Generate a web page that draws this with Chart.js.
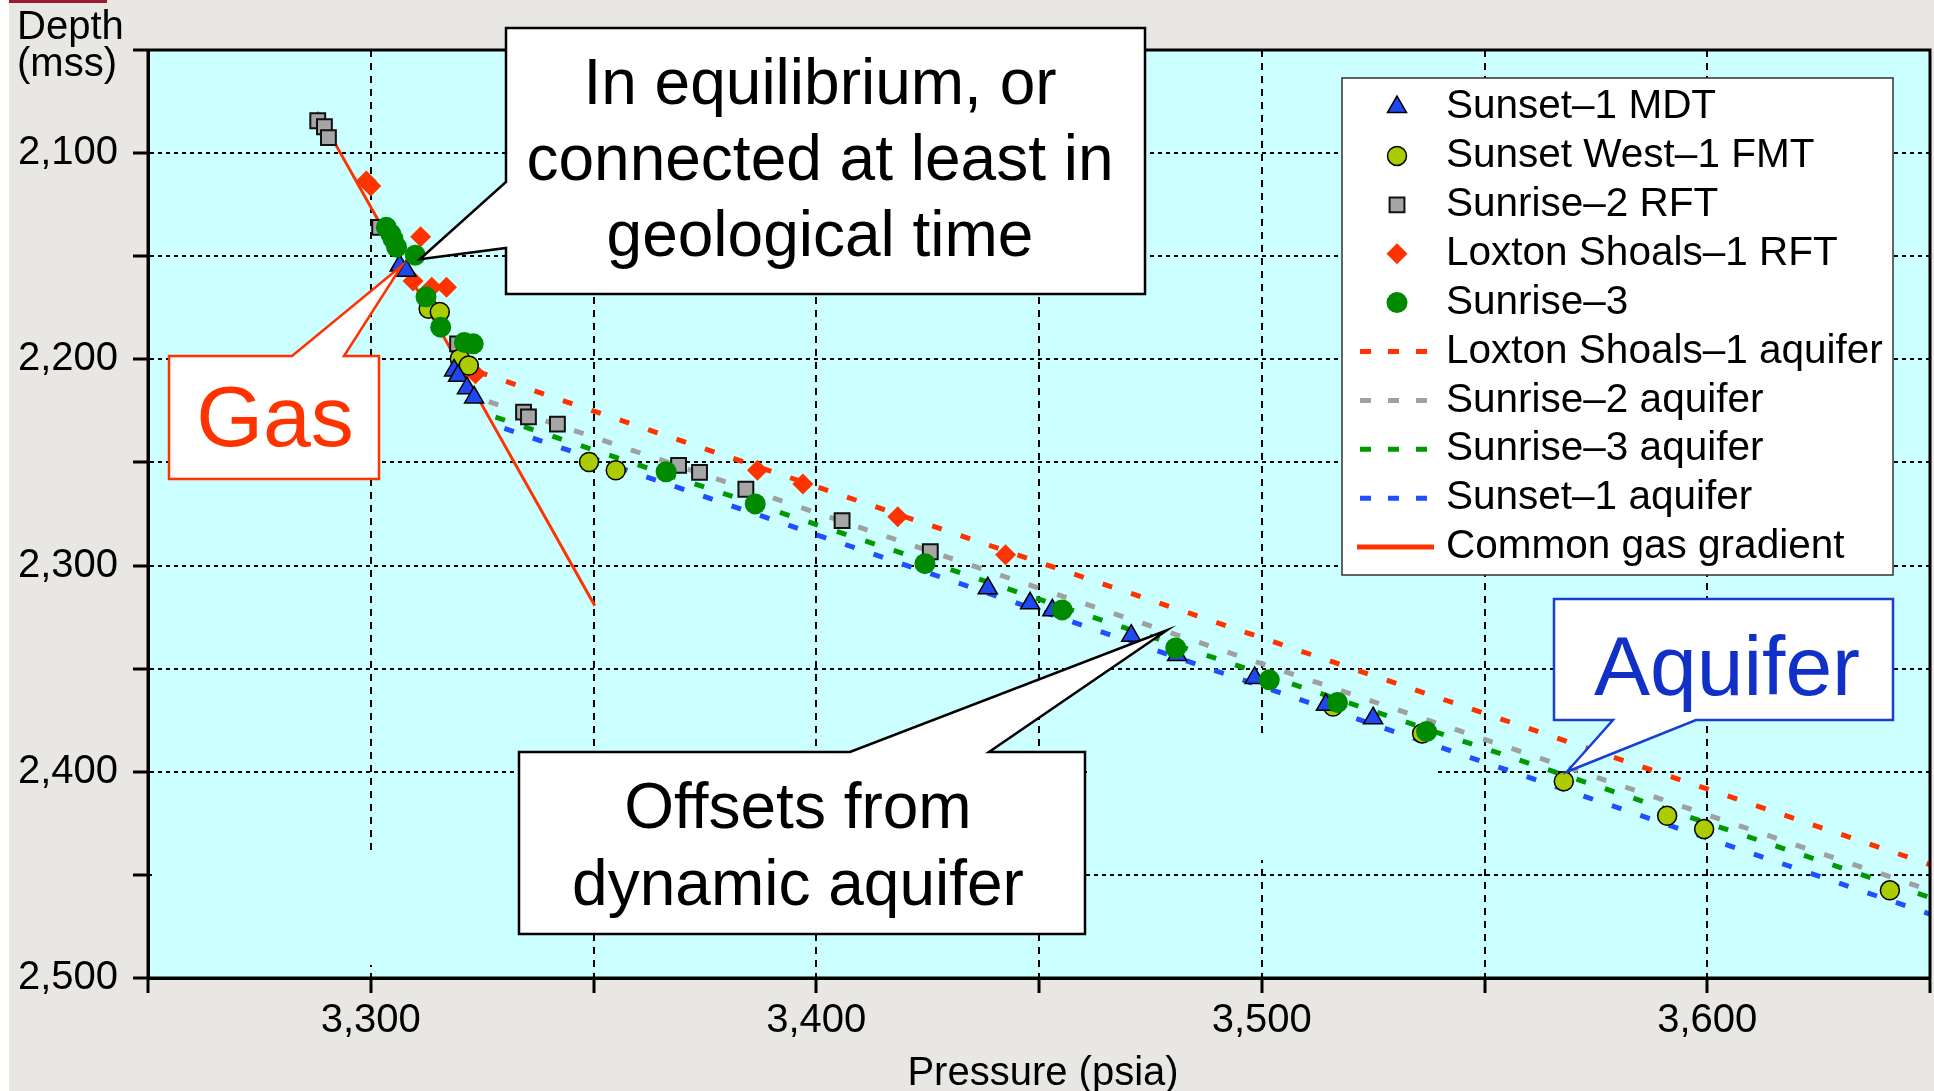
<!DOCTYPE html>
<html>
<head>
<meta charset="utf-8">
<script src="https://cdn.jsdelivr.net/npm/chart.js@4.4.1/dist/chart.umd.min.js"></script>
<style>
  html, body { margin: 0; padding: 0; background: #fff; }
</style>
</head>
<body>
<canvas id="pressureChart" width="1934" height="1091"></canvas>
<script>
// Pressure / depth plot - points as [pressure psia, depth mss]
const sunset1Mdt = [
  [3306.5, 2154.5], [3308, 2157], [3318.7, 2205.4], [3319.6, 2208], [3321.6, 2214],
  [3323.2, 2218.5], [3438.5, 2311], [3448, 2318.3], [3453, 2321.7], [3470.7, 2334],
  [3481, 2343.4], [3498.4, 2354.5], [3514.4, 2367.5], [3525, 2374]
];
const sunsetWest1Fmt = [
  [3313, 2175.5], [3315.5, 2177], [3320, 2199.7], [3322, 2203], [3349, 2249.8],
  [3355, 2253.8], [3516, 2368.4], [3536, 2381.4], [3567.8, 2404.6], [3591, 2421.3],
  [3599.3, 2427.8], [3641, 2457.5]
];
const sunrise2Rft = [
  [3288.1, 2084.3], [3289.6, 2087.2], [3290.5, 2092.5], [3302, 2136], [3319.5, 2192.5],
  [3334.3, 2225.6], [3335.4, 2227.9], [3341.9, 2231.4], [3369.1, 2251.4], [3373.8, 2254.8],
  [3384.2, 2263], [3405.8, 2278.2], [3425.6, 2293.3]
];
const loxtonShoals1Rft = [
  [3299, 2113.5], [3300, 2116], [3311.2, 2140.6], [3309.5, 2162], [3313.7, 2165],
  [3317, 2165], [3323.5, 2207], [3386.8, 2253.8], [3397, 2260.5], [3418.3, 2276.3],
  [3442.5, 2294.8]
];
const sunrise3 = [
  [3303.5, 2136], [3304.5, 2139.2], [3305, 2141.6], [3305.8, 2145.6], [3310, 2149.5],
  [3312.4, 2169.7], [3315.7, 2184.4], [3321, 2191.8], [3323, 2192.5], [3366.3, 2254.5],
  [3386.3, 2270.1], [3424.4, 2299.1], [3455.2, 2321.5], [3480.7, 2340], [3501.7, 2355.4],
  [3517, 2366.4], [3537, 2380.5]
];
// aquifer trends and gas gradient (end points)
const loxtonAquifer = [[3324, 2206], [3650, 2445]];
const sunrise2Aquifer = [[3326.5, 2220.5], [3650, 2457.5]];
const sunrise3Aquifer = [[3328, 2228], [3650, 2461]];
const sunset1Aquifer = [[3330, 2233.5], [3650, 2469]];
const gasGradient = [[3288, 2080], [3350.3, 2319.5]];

// axes
const pressureRange = [3250, 3650];
const depthRange = [2050, 2500];
const pressureLabels = [3300, 3400, 3500, 3600];
const depthLabels = [2100, 2200, 2300, 2400, 2500];

const FONT = "'Liberation Sans', Arial, Helvetica, sans-serif";
const pageGrey = '#E9E7E3';
const plotCyan = '#CCFFFF';
const plotRight = 1930;

function pts(arr) {
  return arr.map(p => ({ x: p[0], y: p[1] }));
}

const datasets = [
  { label: 'Sunset\u20131 MDT', data: pts(sunset1Mdt), pointStyle: 'triangle', pointRadius: 11,
    backgroundColor: '#1F48F0', borderColor: '#000', borderWidth: 1.5, order: 2 },
  { label: 'Sunset West\u20131 FMT', data: pts(sunsetWest1Fmt), pointStyle: 'circle', pointRadius: 9.5,
    backgroundColor: '#AACC00', borderColor: '#000', borderWidth: 1.5, order: 3 },
  { label: 'Sunrise\u20132 RFT', data: pts(sunrise2Rft), pointStyle: 'rect', pointRadius: 10.5,
    backgroundColor: '#A6A6A6', borderColor: '#111', borderWidth: 2, order: 4 },
  { label: 'Loxton Shoals\u20131 RFT', data: pts(loxtonShoals1Rft), pointStyle: 'rectRot', pointRadius: 10.5,
    backgroundColor: '#FF3300', borderColor: '#FF3300', borderWidth: 0, order: 5 },
  { label: 'Sunrise\u20133', data: pts(sunrise3), pointStyle: 'circle', pointRadius: 10.5,
    backgroundColor: '#008A00', borderColor: '#008A00', borderWidth: 0, order: 1 },
  { label: 'Loxton Shoals\u20131 aquifer', data: pts(loxtonAquifer), showLine: true, pointRadius: 0,
    borderColor: '#FF3300', borderWidth: 5, borderDash: [10, 20], order: 10 },
  { label: 'Sunrise\u20132 aquifer', data: pts(sunrise2Aquifer), showLine: true, pointRadius: 0,
    borderColor: '#A0A0A0', borderWidth: 5, borderDash: [10, 20], order: 11 },
  { label: 'Sunrise\u20133 aquifer', data: pts(sunrise3Aquifer), showLine: true, pointRadius: 0,
    borderColor: '#009900', borderWidth: 5, borderDash: [10, 20], order: 12 },
  { label: 'Sunset\u20131 aquifer', data: pts(sunset1Aquifer), showLine: true, pointRadius: 0,
    borderColor: '#1F4FFF', borderWidth: 5, borderDash: [10, 20], order: 13 },
  { label: 'Common gas gradient', data: pts(gasGradient), showLine: true, pointRadius: 0,
    borderColor: '#FF3300', borderWidth: 3, order: 9 }
];

// callouts: box in pixels, tip in data units
const callouts = [
  { box: { l: 506, t: 28, r: 1145, b: 294 }, side: 'left', base: [182, 248], tip: [3311, 2151.5],
    lines: ['In equilibrium, or', 'connected at least in', 'geological time'], ys: [86, 162, 238],
    cx: 820, size: 64, color: '#000', edge: '#000' },
  { box: { l: 169, t: 356, r: 379, b: 479 }, side: 'top', base: [292, 344], tip: [3307, 2154.5],
    lines: ['Gas'], ys: [422], cx: 275, size: 86, color: '#FF3300', edge: '#FF3300' },
  { box: { l: 519, t: 752, r: 1085, b: 934 }, side: 'top', base: [850, 989], tip: [3478.7, 2331.4],
    lines: ['Offsets from', 'dynamic aquifer'], ys: [810, 887], cx: 798, size: 64, color: '#000', edge: '#000' },
  { box: { l: 1554, t: 599, r: 1893, b: 720 }, side: 'bottom', base: [1613, 1696], tip: [3568.5, 2400],
    lines: ['Aquifer'], ys: [672], cx: 1727, size: 84, color: '#1030C8', edge: '#1A3FD0' }
];

function drawCallout(ctx, c, tx, ty) {
  const { l, t, r, b } = c.box;
  ctx.beginPath();
  if (c.side === 'left') {
    ctx.moveTo(l, t); ctx.lineTo(r, t); ctx.lineTo(r, b); ctx.lineTo(l, b);
    ctx.lineTo(l, c.base[1]); ctx.lineTo(tx, ty); ctx.lineTo(l, c.base[0]);
  } else if (c.side === 'top') {
    ctx.moveTo(l, t); ctx.lineTo(c.base[0], t); ctx.lineTo(tx, ty); ctx.lineTo(c.base[1], t);
    ctx.lineTo(r, t); ctx.lineTo(r, b); ctx.lineTo(l, b);
  } else {
    ctx.moveTo(l, t); ctx.lineTo(r, t); ctx.lineTo(r, b); ctx.lineTo(c.base[1], b);
    ctx.lineTo(tx, ty); ctx.lineTo(c.base[0], b); ctx.lineTo(l, b);
  }
  ctx.closePath();
  ctx.fillStyle = '#fff';
  ctx.fill();
  ctx.lineWidth = 2.5;
  ctx.strokeStyle = c.edge;
  ctx.lineJoin = 'miter';
  ctx.stroke();
  ctx.fillStyle = c.color;
  ctx.font = c.size + 'px ' + FONT;
  ctx.textAlign = 'center';
  ctx.textBaseline = 'middle';
  c.lines.forEach((txt, i) => ctx.fillText(txt, c.cx, c.ys[i]));
}

function legendMarker(ctx, ds, x, y) {
  ctx.fillStyle = ds.backgroundColor;
  ctx.strokeStyle = ds.borderColor;
  ctx.lineWidth = ds.borderWidth;
  Chart.helpers.drawPoint(ctx, { pointStyle: ds.pointStyle, radius: ds.pointRadius, borderWidth: ds.borderWidth, rotation: 0 }, x, y);
}

const decorPlugin = {
  id: 'decor',
  beforeDraw(chart) {
    const ctx = chart.ctx, a = chart.chartArea;
    ctx.save();
    ctx.fillStyle = '#fff';
    ctx.fillRect(0, 0, chart.width, chart.height);
    ctx.fillStyle = pageGrey;
    ctx.fillRect(9, 0, chart.width - 9, chart.height);
    ctx.fillStyle = '#9B1B30';
    ctx.fillRect(9, 0, 98, 3);
    ctx.fillStyle = plotCyan;
    ctx.fillRect(a.left, a.top, a.width, a.height);
    ctx.restore();
  },
  beforeDatasetsDraw(chart) {
    // patches where the original grid is hidden
    const ctx = chart.ctx;
    ctx.save();
    ctx.fillStyle = plotCyan;
    ctx.fillRect(152, 853, 367, 112);
    ctx.fillRect(1087, 739, 351, 121);
    ctx.restore();
  },
  afterDatasetsDraw(chart) {
    const ctx = chart.ctx, a = chart.chartArea;
    const xs = chart.scales.x, ys = chart.scales.y;
    ctx.save();
    // frame
    ctx.strokeStyle = '#000';
    ctx.lineWidth = 3;
    ctx.strokeRect(a.left, a.top, a.width, a.height);

    // axis titles
    ctx.fillStyle = '#000';
    ctx.font = '40px ' + FONT;
    ctx.textAlign = 'left';
    ctx.textBaseline = 'alphabetic';
    ctx.fillText('Depth', 17, 39);
    ctx.fillText('(mss)', 17, 76);
    ctx.textAlign = 'center';
    ctx.fillText('Pressure (psia)', (a.left + a.right) / 2 + 4, 1085);

    // legend
    const lg = { l: 1342, t: 78, r: 1893, b: 575 };
    ctx.fillStyle = '#fff';
    ctx.fillRect(lg.l, lg.t, lg.r - lg.l, lg.b - lg.t);
    ctx.strokeStyle = '#333';
    ctx.lineWidth = 1.5;
    ctx.strokeRect(lg.l, lg.t, lg.r - lg.l, lg.b - lg.t);
    chart.data.datasets.forEach((ds, i) => {
      const y = 107 + i * 48.9;
      ctx.save();
      if (ds.showLine) {
        ctx.strokeStyle = ds.borderColor;
        ctx.lineWidth = 5;
        ctx.setLineDash(ds.borderDash ? [11, 17] : []);
        ctx.beginPath();
        ctx.moveTo(ds.borderDash ? 1360 : 1357, y);
        ctx.lineTo(ds.borderDash ? 1428 : 1434, y);
        ctx.stroke();
      } else {
        legendMarker(ctx, ds, 1397, y);
      }
      ctx.restore();
      ctx.fillStyle = '#000';
      ctx.font = '40.5px ' + FONT;
      ctx.textAlign = 'left';
      ctx.textBaseline = 'middle';
      ctx.fillText(ds.label, 1446, y);
    });

    // callouts
    callouts.forEach(c => {
      drawCallout(ctx, c, xs.getPixelForValue(c.tip[0]), ys.getPixelForValue(c.tip[1]));
    });
    ctx.restore();
  }
};

const tickFont = { family: FONT, size: 40 };

const chart = new Chart(document.getElementById('pressureChart').getContext('2d'), {
  type: 'scatter',
  data: { datasets: datasets },
  options: {
    responsive: false,
    animation: false,
    devicePixelRatio: 1,
    layout: { autoPadding: false, padding: { top: 50, right: 4, left: 0, bottom: 0 } },
    plugins: { legend: { display: false }, tooltip: { enabled: false } },
    scales: {
      x: {
        type: 'linear',
        min: pressureRange[0],
        max: pressureRange[1],
        ticks: {
          stepSize: 50, autoSkip: false, maxRotation: 0, padding: 4, color: '#000', font: tickFont,
          callback: v => pressureLabels.includes(v) ? v.toLocaleString('en-US') : ''
        },
        grid: { color: '#000', lineWidth: 2, tickLength: 15, tickWidth: 3, tickColor: '#000' },
        border: { display: true, color: '#000', width: 3, dash: [7, 6] },
        afterFit(scale) {
          scale.height = 113;
          scale.paddingLeft = 0;
          scale.paddingRight = 0;
        }
      },
      y: {
        type: 'linear',
        reverse: true,
        min: depthRange[0],
        max: depthRange[1],
        ticks: {
          stepSize: 50, autoSkip: false, padding: 15, color: '#000', font: tickFont,
          callback: v => depthLabels.includes(v) ? v.toLocaleString('en-US') : ''
        },
        grid: { color: '#000', lineWidth: 2, tickLength: 15, tickWidth: 3, tickColor: '#000' },
        border: { display: true, color: '#000', width: 3, dash: [4, 4] },
        afterFit(scale) {
          scale.width = 148;
          scale.paddingTop = 0;
          scale.paddingBottom = 0;
        }
      }
    }
  },
  plugins: [decorPlugin]
});

// keep the plot's right edge where the original has it
for (let i = 0; i < 3; i++) {
  const gap = plotRight - chart.chartArea.right;
  if (Math.abs(gap) < 0.5) break;
  chart.options.layout.padding.right -= gap;
  chart.update();
}
</script>
</body>
</html>
